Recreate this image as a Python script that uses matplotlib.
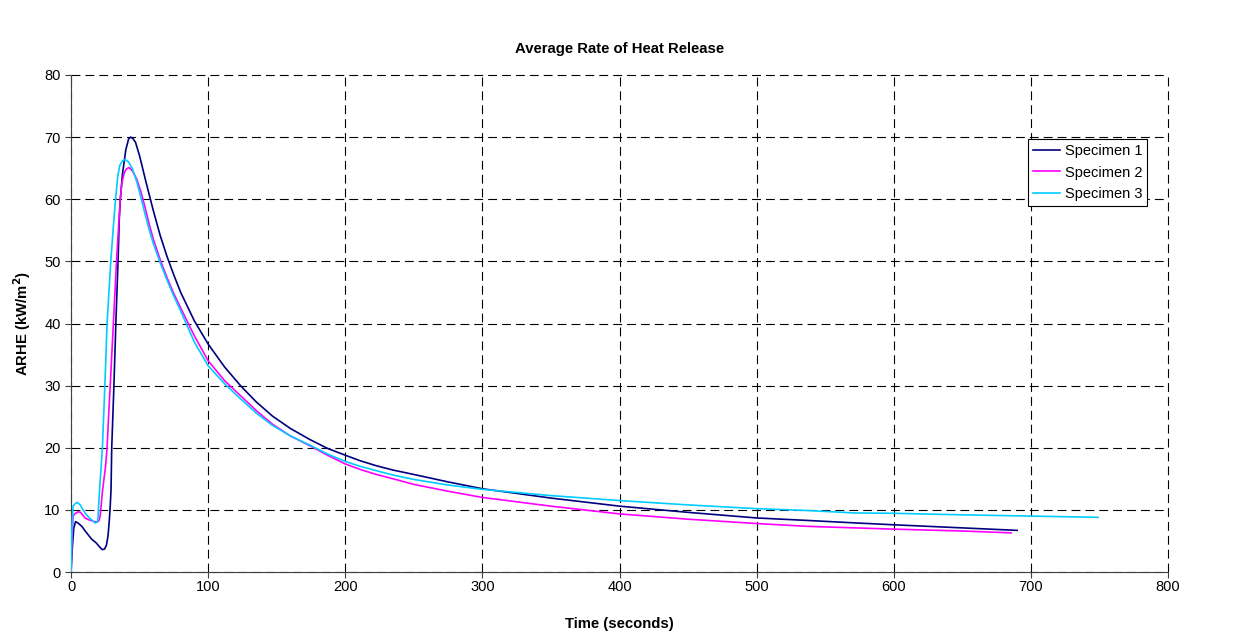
import matplotlib
matplotlib.use("Agg")
import matplotlib.pyplot as plt

plt.rcParams['font.family'] = ['Liberation Sans', 'DejaVu Sans']

# Specimen 1
t1 = [0, 1, 2, 3.3, 5, 7.9, 10, 12.5, 15, 18.3, 21, 22.8, 24.5, 25.8, 27, 28, 28.6, 29.2,
      29.7, 30.5, 31.3, 32.7, 34.3, 35.2, 36, 37.5, 40, 42, 43.5, 45, 47, 50, 55, 60, 65,
      70, 75, 80, 90, 100, 112, 124, 135, 146.9, 160, 174.4, 187, 200, 211, 222.7, 235,
      250, 275, 300, 350, 400, 450, 500, 537, 572, 600, 650, 690]
v1 = [0, 4, 7, 8.1, 7.9, 7.35, 6.7, 6.0, 5.3, 4.7, 4.0, 3.6, 3.7, 4.3, 5.8, 8.5, 10.6, 13.3,
      20, 25, 30, 40, 50, 56.8, 60, 64, 68, 69.7, 70, 69.8, 69.2, 67.0, 62.5, 58.2, 54.2,
      50.8, 47.8, 45.0, 40.4, 36.7, 33, 29.9, 27.4, 25.1, 23.1, 21.3, 19.9, 18.8, 17.9, 17.1, 16.4,
      15.7, 14.5, 13.4, 11.9, 10.6, 9.6, 8.7, 8.3, 7.9, 7.6, 7.1, 6.7]

# Specimen 2
t2 = [0, 0.7, 1.5, 3, 5.2, 7, 10.2, 13, 17.1, 19.5, 20.5, 21.2, 21.7, 22.8, 24, 25.2, 26.3,
      27.4, 28.6, 30.9, 33.2, 35, 35.9, 37, 38.9, 40.5, 42.4, 45, 48, 51, 54, 57, 60,
      65, 70, 75, 80, 90, 100, 112, 124, 135, 146.9, 160, 174.4, 187, 200, 211, 222.7,
      235, 250, 275, 300, 350, 400, 450, 500, 537, 572, 600, 650, 685.6]
v2 = [0, 5, 9.0, 9.4, 9.7, 9.6, 8.7, 8.4, 8.1, 8.1, 8.3, 9.0, 10.0, 12.7, 14.9, 17, 20,
      25, 30, 40, 50, 56.8, 60, 62.5, 64.3, 64.9, 65.1, 64.5, 63.2, 61.2, 58.7, 56.0, 53.6,
      50.3, 47.4, 44.8, 42.5, 38.0, 34.0, 30.8, 28.3, 26.0, 23.8, 21.9, 20.3, 18.8, 17.4, 16.5, 15.7,
      15.0, 14.1, 13.0, 12.0, 10.6, 9.35, 8.5, 7.8, 7.35, 7.1, 6.9, 6.6, 6.3]

# Specimen 3
t3 = [0, 0.7, 1.5, 3, 4.5, 6.8, 8.5, 10.2, 13, 15.5, 17.6, 18.8, 19.4, 19.8, 20.1, 20.6,
      21.1, 22.9, 24.7, 26.3, 29, 31.3, 32.5, 34, 35.5, 37.5, 39.4, 42, 45, 48, 51, 54,
      57, 60, 65, 70, 75, 80, 90, 100, 112, 124, 135, 146.9, 160, 174.4, 187, 200, 211,
      222.7, 235, 250, 275, 300, 350, 400, 450, 500, 537, 572, 600, 650, 700, 749]
v3 = [0, 7, 10.6, 11.0, 11.2, 10.8, 10.1, 9.5, 8.8, 8.3, 7.9, 8.0, 8.1, 9.0, 10.6, 12.5,
      14, 20, 30, 40, 50, 56.8, 60, 63.5, 65.4, 66.2, 66.4, 66.0, 64.8, 62.8, 60.3, 57.6,
      55.1, 52.9, 49.8, 47.0, 44.4, 42.0, 37.0, 33.2, 30.3, 27.8, 25.6, 23.6, 21.9, 20.4, 19.0, 17.8, 17.0,
      16.3, 15.6, 14.9, 14.0, 13.3, 12.3, 11.5, 10.8, 10.2, 9.9, 9.5, 9.45, 9.2, 9.0, 8.8]

series_labels = ["Specimen 1", "Specimen 2", "Specimen 3"]
colors = ["#000080", "#FF00FF", "#00CCFF"]
x_ticks = [0, 100, 200, 300, 400, 500, 600, 700, 800]
y_ticks = [0, 10, 20, 30, 40, 50, 60, 70, 80]

fig = plt.figure(figsize=(12.45, 6.35), dpi=100)
ax = fig.add_axes([71/1245, 1 - 572/635, (1168-71)/1245, (572-75)/635])

for t, v, lab, c in zip([t1, t2, t3], [v1, v2, v3], series_labels, colors):
    ax.plot(t, v, color=c, lw=1.2, label=lab, zorder=3)

ax.set_xlim(0, 800)
ax.set_ylim(0, 80)
ax.set_xticks(x_ticks)
ax.set_yticks(y_ticks)
ax.tick_params(axis='both', labelsize=10.5, direction='out', length=4, width=0.8,
               colors='#404040', labelcolor='black')
ax.tick_params(axis='x', pad=2)
ax.grid(True, color='black', linestyle=(0, (8, 4.5)), linewidth=0.8)
for gl in ax.get_xgridlines() + ax.get_ygridlines():
    gl.set_clip_on(False)
ax.spines['top'].set_visible(False)
ax.spines['right'].set_visible(False)
ax.spines['left'].set_color('#404040')
ax.spines['bottom'].set_color('#404040')

ax.set_title("Average Rate of Heat Release", fontsize=10.7, fontweight='bold', pad=16)
ax.set_xlabel("Time (seconds)", fontsize=10.7, fontweight='bold', labelpad=16)
ax.set_ylabel("ARHE (kW/m$^\\mathbf{2}$)", fontsize=10.7, fontweight='bold', labelpad=8)

leg = ax.legend(loc='upper left', bbox_to_anchor=(0.872, 0.871), fontsize=10.5,
                frameon=True, fancybox=False, edgecolor='black', framealpha=1,
                handlelength=1.9, borderpad=0.35, labelspacing=0.5, handletextpad=0.3,
                borderaxespad=0)
leg.get_frame().set_linewidth(0.8)

fig.savefig("out.png", dpi=100)
